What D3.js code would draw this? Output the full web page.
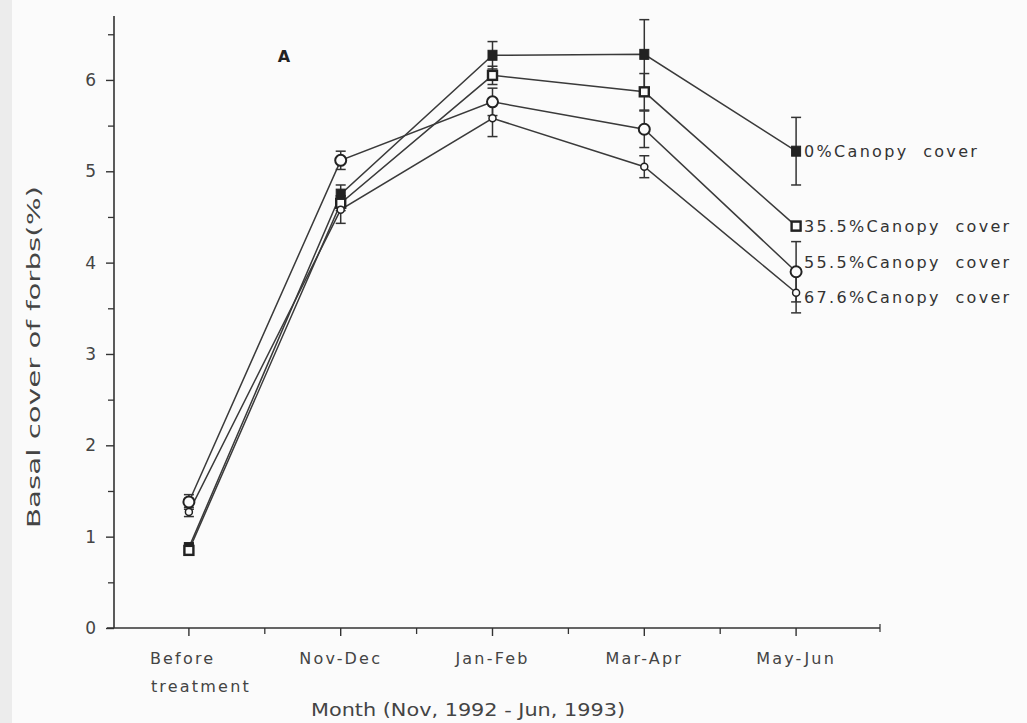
<!DOCTYPE html>
<html>
<head>
<meta charset="utf-8">
<script src="https://cdn.jsdelivr.net/npm/d3@7"></script>
<style>
  body { margin: 0; background: #fbfbfb; }
  svg { display: block; }
  text { font-family: "DejaVu Sans", sans-serif; fill: #333; }
</style>
</head>
<body>
<svg width="1027" height="723"></svg>
<script>
// categories on the x axis
const months = ['Before treatment', 'Nov-Dec', 'Jan-Feb', 'Mar-Apr', 'May-Jun'];

// basal cover of forbs (%) per canopy cover treatment
const cover0   = [0.88, 4.75, 6.27, 6.28, 5.22];
const cover355 = [0.85, 4.65, 6.05, 5.87, 4.40];
const cover555 = [1.38, 5.12, 5.76, 5.46, 3.90];
const cover676 = [1.27, 4.58, 5.58, 5.05, 3.67];

// error bars (half length)
const err0   = [0.05, 0.10, 0.15, 0.38, 0.37];
const err355 = [0.05, 0.08, 0.10, 0.20, 0.05];
const err555 = [0.08, 0.10, 0.15, 0.20, 0.33];
const err676 = [0.05, 0.15, 0.20, 0.12, 0.22];

const seriesNames = ['0%Canopy  cover', '35.5%Canopy  cover', '55.5%Canopy  cover', '67.6%Canopy  cover'];

const yTicks = [0, 1, 2, 3, 4, 5, 6];

const series = [
  { name: seriesNames[0], values: cover0,   err: err0,   marker: 'fsquare' },
  { name: seriesNames[1], values: cover355, err: err355, marker: 'osquare' },
  { name: seriesNames[2], values: cover555, err: err555, marker: 'ocircle' },
  { name: seriesNames[3], values: cover676, err: err676, marker: 'scircle' }
];
// label nudges so the right hand labels do not overlap (pixels)
const labelNudge = [0, 0, -9, 5];

const svg = d3.select('svg');

// faint scan strip at the left edge
svg.append('rect').attr('x', 0).attr('y', 0).attr('width', 12).attr('height', 723).attr('fill', '#ececec');

const x = d3.scaleBand().domain(months).range([113, 872]);
const xc = d => x(d) + x.bandwidth() / 2;
const y = d3.scaleLinear().domain([0, 6.7]).range([628, 16]);

const ink = '#333';

// y axis, major ticks with labels
const yAxis = svg.append('g')
  .attr('transform', 'translate(114,0)')
  .call(d3.axisLeft(y).tickValues(yTicks).tickSize(8).tickPadding(10).tickFormat(d3.format('d')));
yAxis.select('.domain').attr('stroke', ink).attr('stroke-width', 1.6).attr('d', `M0,${y(6.7)}V${y(0)}`);
yAxis.selectAll('.tick line').attr('stroke', ink).attr('stroke-width', 1.4);
yAxis.selectAll('.tick text').style('font-size', '17px').style('fill', '#444');

// y minor ticks
const yMinor = svg.append('g')
  .attr('transform', 'translate(114,0)')
  .call(d3.axisLeft(y).tickValues(d3.range(0.5, 6.6, 1)).tickSize(6).tickFormat(''));
yMinor.select('.domain').remove();
yMinor.selectAll('.tick line').attr('stroke', ink).attr('stroke-width', 1.3);

// x axis
const xAxis = svg.append('g')
  .attr('transform', 'translate(0,628)')
  .call(d3.axisBottom(x).tickSize(8).tickPadding(17));
xAxis.select('.domain').attr('stroke', ink).attr('stroke-width', 1.6).attr('d', 'M107,0H880');
xAxis.selectAll('.tick line').attr('stroke', ink).attr('stroke-width', 1.4);
xAxis.selectAll('.tick text')
  .style('font-size', '16px')
  .style('letter-spacing', '2.2px')
  .style('fill', '#444')
  .each(function(d) {
    const t = d3.select(this);
    if (d === 'Before treatment') {
      t.text(null).attr('text-anchor', 'start');
      t.append('tspan').attr('x', -39).attr('dy', '0.71em').text('Before');
      t.append('tspan').attr('x', -38).attr('dy', '1.75em').text('treatment');
    }
  });

// x minor ticks at band edges
svg.append('g')
  .selectAll('line')
  .data(months.slice(1))
  .join('line')
  .attr('x1', d => x(d)).attr('x2', d => x(d))
  .attr('y1', 628).attr('y2', 634)
  .attr('stroke', ink).attr('stroke-width', 1.3);
svg.append('line').attr('x1', 880).attr('x2', 880).attr('y1', 624).attr('y2', 632)
  .attr('stroke', ink).attr('stroke-width', 1.2);

// axis titles
svg.append('text')
  .attr('transform', 'translate(40,357) rotate(-90)')
  .attr('text-anchor', 'middle')
  .attr('textLength', 342)
  .attr('lengthAdjust', 'spacingAndGlyphs')
  .style('font-size', '18px')
  .style('fill', '#444')
  .text('Basal cover of forbs(%)');

svg.append('text')
  .attr('x', 468).attr('y', 716)
  .attr('text-anchor', 'middle')
  .attr('textLength', 314)
  .attr('lengthAdjust', 'spacingAndGlyphs')
  .style('font-size', '18px')
  .style('fill', '#444')
  .text('Month (Nov, 1992 - Jun, 1993)');

// panel letter
svg.append('text')
  .attr('x', 284).attr('y', 62)
  .attr('text-anchor', 'middle')
  .style('font-size', '16px')
  .style('font-weight', 'bold')
  .style('fill', '#222')
  .text('A');

const line = d3.line()
  .x((d, i) => xc(months[i]))
  .y(d => y(d));

const plot = svg.append('g');

// lines
plot.selectAll('path.series')
  .data(series)
  .join('path')
  .attr('class', 'series')
  .attr('d', d => line(d.values))
  .attr('fill', 'none')
  .attr('stroke', '#3a3a3a')
  .attr('stroke-width', 1.5);

// error bars
series.forEach(s => {
  const g = plot.append('g');
  const pts = s.values.map((v, i) => ({ c: months[i], v, e: s.err[i] }));
  g.selectAll('line.v').data(pts).join('line')
    .attr('x1', d => xc(d.c)).attr('x2', d => xc(d.c))
    .attr('y1', d => y(d.v + d.e)).attr('y2', d => y(d.v - d.e))
    .attr('stroke', ink).attr('stroke-width', 1.5);
  g.selectAll('line.top').data(pts).join('line')
    .attr('x1', d => xc(d.c) - 5).attr('x2', d => xc(d.c) + 5)
    .attr('y1', d => y(d.v + d.e)).attr('y2', d => y(d.v + d.e))
    .attr('stroke', ink).attr('stroke-width', 1.5);
  g.selectAll('line.bot').data(pts).join('line')
    .attr('x1', d => xc(d.c) - 5).attr('x2', d => xc(d.c) + 5)
    .attr('y1', d => y(d.v - d.e)).attr('y2', d => y(d.v - d.e))
    .attr('stroke', ink).attr('stroke-width', 1.5);
});

// markers
series.forEach(s => {
  const g = plot.append('g');
  const pts = s.values.map((v, i) => ({ c: months[i], v }));
  if (s.marker === 'fsquare') {
    g.selectAll('rect').data(pts).join('rect')
      .attr('x', d => xc(d.c) - 4.5).attr('y', d => y(d.v) - 5)
      .attr('width', 9).attr('height', 10)
      .attr('fill', '#222').attr('stroke', '#222');
  } else if (s.marker === 'osquare') {
    g.selectAll('rect').data(pts).join('rect')
      .attr('x', d => xc(d.c) - 4.5).attr('y', d => y(d.v) - 4.5)
      .attr('width', 9).attr('height', 9)
      .attr('fill', '#fbfbfb').attr('stroke', '#222').attr('stroke-width', 2.4);
  } else if (s.marker === 'ocircle') {
    g.selectAll('circle').data(pts).join('circle')
      .attr('cx', d => xc(d.c)).attr('cy', d => y(d.v)).attr('r', 5.5)
      .attr('fill', '#fbfbfb').attr('stroke', '#222').attr('stroke-width', 2);
  } else {
    g.selectAll('circle').data(pts).join('circle')
      .attr('cx', d => xc(d.c)).attr('cy', d => y(d.v)).attr('r', 3.5)
      .attr('fill', '#fbfbfb').attr('stroke', '#222').attr('stroke-width', 1.5);
  }
});

// right hand labels
svg.append('g')
  .selectAll('text')
  .data(series)
  .join('text')
  .attr('x', xc(months[4]) + 8)
  .attr('y', (d, i) => y(d.values[4]) + labelNudge[i])
  .attr('dy', '0.35em')
  .style('font-size', '16px')
  .style('letter-spacing', '2.3px')
  .style('white-space', 'pre')
  .style('fill', '#333')
  .text(d => d.name);
</script>
</body>
</html>
